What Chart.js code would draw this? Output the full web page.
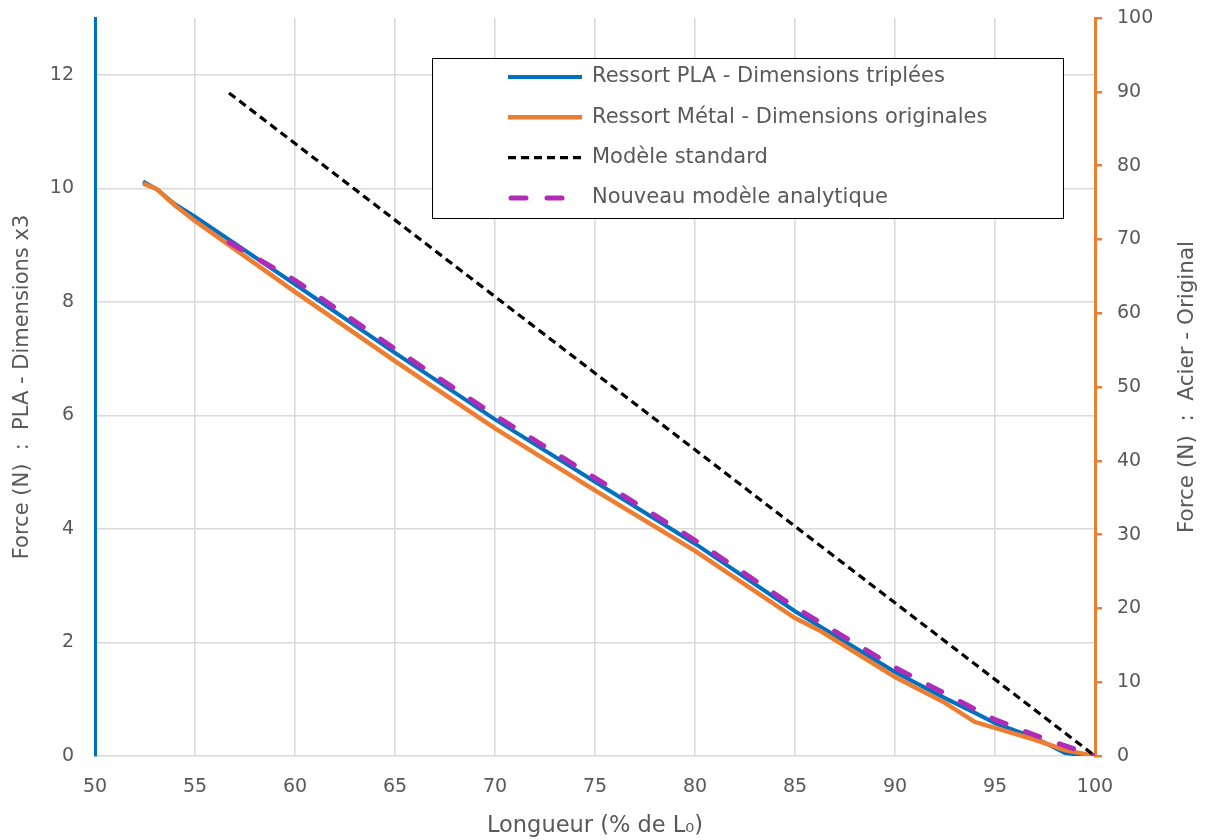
<!DOCTYPE html>
<html>
<head>
<meta charset="utf-8">
<script src="https://cdn.jsdelivr.net/npm/chart.js@4.4.0/dist/chart.umd.min.js"></script>
<style>
  html, body { margin: 0; padding: 0; background: #fff; }
</style>
</head>
<body>
<canvas id="myChart" width="1207" height="840"></canvas>
<script>
// --- data ---
// PLA spring (left axis, N)
var pla_x = [52.4, 53.1, 54, 55, 60, 65, 70, 75, 80, 85, 90, 92.5, 94, 95, 97, 98.5, 100];
var pla_f = [10.12, 9.98, 9.72, 9.5, 8.31, 7.1, 5.93, 4.83, 3.74, 2.55, 1.48, 1.02, 0.76, 0.58, 0.32, 0.05, 0];

// metal spring (right axis, N)
var metal_x = [52.4, 53.1, 54, 55, 60, 65, 70, 75, 80, 85, 86.3, 90, 92.5, 94, 95, 97, 98.5, 100];
var metal_f = [77.6, 76.8, 74.6, 72.5, 62.9, 53.5, 44.4, 36.0, 27.8, 18.7, 16.9, 10.7, 7.2, 4.6, 3.8, 2.2, 0.8, 0];

// standard model (left axis)
var std_x = [56.7, 100];
var std_f = [11.68, 0];

// new analytic model (left axis)
var ana_x = [56.7, 60, 65, 70, 75, 80, 85, 90, 95, 97.5, 100];
var ana_f = [9.05, 8.38, 7.17, 6.0, 4.9, 3.8, 2.62, 1.56, 0.64, 0.3, 0];

var x_ticks = { min: 50, max: 100, step: 5 };
var y_ticks = { min: 0, max: 13, step: 2 };
var y2_ticks = { min: 0, max: 100, step: 10 };

function pts(xs, ys) {
  var out = [];
  for (var i = 0; i < xs.length; i++) out.push({ x: xs[i], y: ys[i] });
  return out;
}

var FONT = "'DejaVu Sans', sans-serif";
var TXT = '#595959';
var GRID = '#d9d9d9';

// fixed box sizes so the plot area sits where the original one does
function fixBox(w, h) {
  return function (s) {
    if (w) s.width = w;
    if (h) s.height = h;
    s.paddingTop = 0; s.paddingBottom = 0;
    s.paddingLeft = 0; s.paddingRight = 0;
  };
}

// legend drawn in a box inside the plot, like the original
var boxLegend = {
  id: 'boxLegend',
  afterDraw: function (chart) {
    var ctx = chart.ctx;
    ctx.save();
    ctx.fillStyle = '#fff';
    ctx.fillRect(432, 58, 632, 161);
    ctx.strokeStyle = '#000';
    ctx.lineWidth = 1;
    ctx.strokeRect(432.5, 58.5, 631, 160);
    ctx.font = '21px ' + FONT;
    ctx.textBaseline = 'middle';
    chart.data.datasets.forEach(function (ds, i) {
      var y = 77 + i * 40.3;
      ctx.beginPath();
      ctx.strokeStyle = ds.borderColor;
      ctx.lineWidth = ds.borderWidth;
      ctx.lineCap = ds.borderCapStyle || 'butt';
      ctx.setLineDash(ds.borderDash || []);
      var x0 = 508 + (ds.borderCapStyle === 'round' ? 3 : 0);
      ctx.moveTo(x0, y);
      ctx.lineTo(582, y);
      ctx.stroke();
      ctx.setLineDash([]);
      ctx.fillStyle = TXT;
      ctx.fillText(ds.label, 592, y);
    });
    // right axis title reads bottom to top
    var t = chart.options.scales.y2.title;
    ctx.translate(chart.width - 20, (chart.chartArea.top + chart.chartArea.bottom) / 2);
    ctx.rotate(-Math.PI / 2);
    ctx.textAlign = 'center';
    ctx.font = '21.5px ' + FONT;
    ctx.fillStyle = TXT;
    ctx.fillText(t.text, 0, 0);
    ctx.restore();
  }
};

var ctx = document.getElementById('myChart').getContext('2d');
var chart = new Chart(ctx, {
  type: 'line',
  data: {
    datasets: [{
      label: 'Ressort PLA - Dimensions triplées',
      data: pts(pla_x, pla_f),
      borderColor: '#0070C0',
      borderWidth: 4,
      pointRadius: 0,
      yAxisID: 'y',
      order: 3
    }, {
      label: 'Ressort Métal - Dimensions originales',
      data: pts(metal_x, metal_f),
      borderColor: '#ED7D31',
      borderWidth: 4.5,
      pointRadius: 0,
      yAxisID: 'y2',
      order: 2
    }, {
      label: 'Modèle standard',
      data: pts(std_x, std_f),
      borderColor: '#000000',
      borderWidth: 3.2,
      borderDash: [8, 5],
      pointRadius: 0,
      yAxisID: 'y',
      order: 0
    }, {
      label: 'Nouveau modèle analytique',
      data: pts(ana_x, ana_f),
      borderColor: '#B02CB8',
      borderWidth: 5,
      borderDash: [15, 21],
      borderCapStyle: 'round',
      pointRadius: 0,
      yAxisID: 'y',
      order: 1
    }]
  },
  options: {
    responsive: false,
    animation: false,
    layout: { autoPadding: false, padding: { top: 18, left: 0, right: 0, bottom: 0 } },
    plugins: { legend: { display: false }, tooltip: { enabled: false } },
    scales: {
      x: {
        type: 'linear',
        min: x_ticks.min, max: x_ticks.max,
        ticks: { stepSize: x_ticks.step, color: TXT, font: { family: FONT, size: 19 }, padding: 20 },
        grid: { color: GRID, lineWidth: 1.5, drawTicks: false },
        border: { display: false },
        title: { display: true, text: 'Longueur (% de L₀)', color: TXT, font: { family: FONT, size: 22.5 }, padding: { top: 0, bottom: 0 } },
        afterFit: fixBox(0, 84)
      },
      y: {
        position: 'left',
        min: y_ticks.min, max: y_ticks.max,
        ticks: { stepSize: y_ticks.step, includeBounds: false, color: TXT, font: { family: FONT, size: 19 }, padding: 21 },
        grid: { color: GRID, lineWidth: 1.5, drawTicks: false },
        border: { color: '#0070C0', width: 3 },
        title: { display: true, text: 'Force (N)  :  PLA - Dimensions x3', color: TXT, font: { family: FONT, size: 21 }, padding: { top: 10, bottom: 0 } },
        afterFit: fixBox(95, 0)
      },
      y2: {
        position: 'right',
        min: y2_ticks.min, max: y2_ticks.max,
        ticks: { stepSize: y2_ticks.step, color: TXT, font: { family: FONT, size: 19 }, padding: 15 },
        grid: { drawOnChartArea: false, color: '#ED7D31', lineWidth: 2.5, tickLength: 7 },
        border: { color: '#ED7D31', width: 3 },
        title: { display: false, text: 'Force (N)  :  Acier - Original' },
        afterFit: fixBox(112, 0)
      }
    }
  },
  plugins: [boxLegend]
});
</script>
</body>
</html>
